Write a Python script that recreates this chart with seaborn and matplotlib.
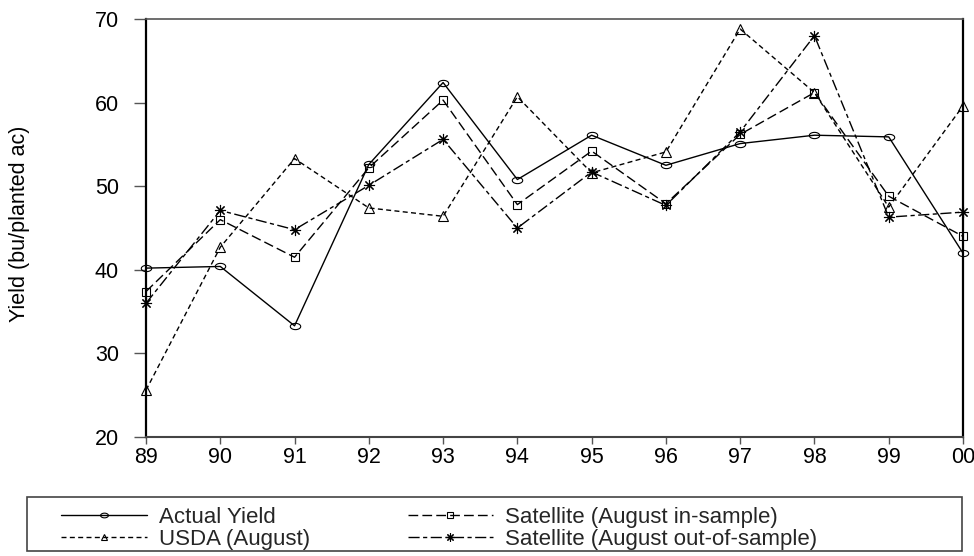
import numpy as np
import pandas as pd
import matplotlib
matplotlib.use("Agg")
import matplotlib.pyplot as plt
from matplotlib.path import Path
from matplotlib.patches import Rectangle
from matplotlib.lines import Line2D
import seaborn as sns

# Crop years (two-digit labels) and yields in bu/planted ac
years = ["89", "90", "91", "92", "93", "94", "95", "96", "97", "98", "99", "00"]
actual_yield = [40.2, 40.4, 33.3, 52.6, 62.4, 50.8, 56.1, 52.5, 55.1, 56.1, 55.9, 42.0]
usda_august = [25.6, 42.7, 53.3, 47.4, 46.4, 60.7, 51.6, 54.1, 68.8, 61.2, 47.5, 59.6]
sat_in_sample = [37.4, 46.0, 41.5, 52.2, 60.3, 47.8, 54.2, 47.9, 56.2, 61.2, 48.8, 44.0]
sat_out_sample = [36.0, 47.1, 44.8, 50.1, 55.6, 45.0, 51.7, 47.7, 56.5, 68.0, 46.3, 46.9]

series_names = ["Actual Yield", "USDA (August)",
                "Satellite (August in-sample)", "Satellite (August out-of-sample)"]
series_values = [actual_yield, usda_august, sat_in_sample, sat_out_sample]

df = pd.DataFrame({
    "pos": np.tile(np.arange(len(years)), len(series_names)),
    "yield": np.concatenate(series_values),
    "series": np.repeat(series_names, len(years)),
})

sns.set_theme(style="white")
plt.rcParams["font.family"] = ["Liberation Sans", "DejaVu Sans"]

# open ellipse used for the actual-yield markers
t = np.linspace(0, 2 * np.pi, 40)
ellipse = Path(np.column_stack([np.cos(t), 0.6 * np.sin(t)]), closed=True)

styles = {
    "Actual Yield": dict(ls="-", marker=ellipse, ms=7.5),
    "USDA (August)": dict(ls=(0, (3.6, 2.4)), marker="^", ms=6.5),
    "Satellite (August in-sample)": dict(ls=(0, (7, 3)), marker="s", ms=6.0),
    "Satellite (August out-of-sample)": dict(ls=(0, (8, 2.5, 3, 2.5)), marker=(8, 2, 0), ms=8.0),
}

fig = plt.figure(figsize=(9.74, 5.56), dpi=100)
ax = fig.add_axes([146 / 974, 1 - 437 / 556, (963 - 146) / 974, (437 - 19) / 556])

for name in series_names:
    st = styles[name]
    sub = df[df["series"] == name]
    sns.lineplot(data=sub, x="pos", y="yield", ax=ax, color="black", lw=1.0,
                 linestyle=st["ls"], marker=st["marker"], markersize=st["ms"],
                 markerfacecolor="none", markeredgecolor="black",
                 markeredgewidth=0.8, clip_on=False, legend=False)

ax.set_xlim(0, len(years) - 1)
ax.set_ylim(20, 70)
ax.set_xticks(np.arange(len(years)))
ax.set_xticklabels(years)
ax.set_yticks([20, 30, 40, 50, 60, 70])
ax.set_xlabel("")
ax.set_ylabel("Yield (bu/planted ac)", fontsize=15.5, color="black")
ax.yaxis.set_label_coords(-0.142, 0.51)

ax.tick_params(axis="y", direction="out", length=8.6, width=1.0, color="#555555",
               pad=11, labelsize=15.5, labelcolor="black", left=True)
ax.tick_params(axis="x", direction="out", length=5, width=1.0, color="#555555",
               pad=2, labelsize=15.5, labelcolor="black", bottom=True)

for side, col, w in [("left", "black", 1.6), ("right", "black", 1.6),
                     ("bottom", "#444444", 1.5), ("top", "#555555", 1.2)]:
    ax.spines[side].set_visible(True)
    ax.spines[side].set_color(col)
    ax.spines[side].set_linewidth(w)

# legend below the plot, two columns inside a wide box
handles = []
for name in series_names:
    st = styles[name]
    handles.append(Line2D([], [], color="black", lw=1.0, linestyle=st["ls"],
                          marker=st["marker"], markersize=st["ms"] * 0.75,
                          markerfacecolor="none", markeredgecolor="black",
                          markeredgewidth=0.8))
fig.legend(handles, series_names, ncol=2, loc="upper left",
           bbox_to_anchor=(61 / 974, 1 - 507 / 556), frameon=False,
           fontsize=16, handlelength=3.85, handletextpad=0.55,
           columnspacing=4.4, labelspacing=0.03, borderpad=0, borderaxespad=0)
fig.patches.append(Rectangle((27 / 974, 1 - 551 / 556), 935 / 974, 54 / 556,
                             transform=fig.transFigure, fill=False,
                             edgecolor="#444444", lw=1.2))

fig.savefig("out.png", dpi=100)
